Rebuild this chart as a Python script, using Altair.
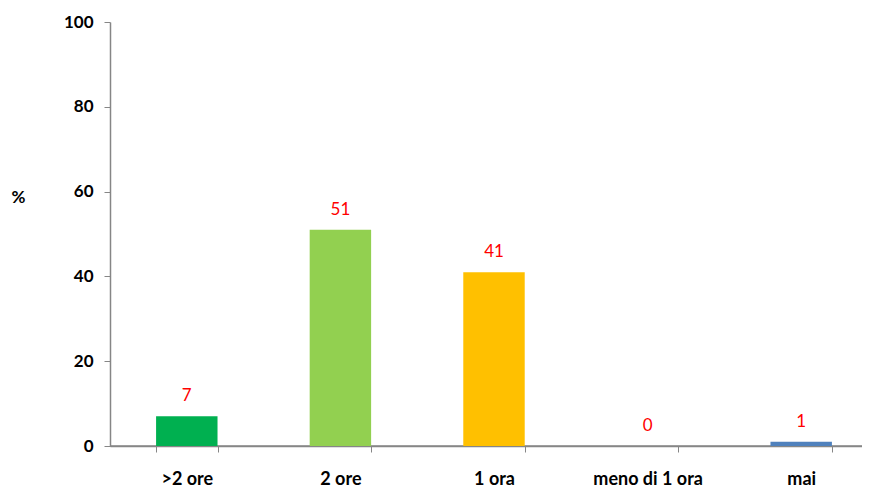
import altair as alt
import pandas as pd

categories = [">2 ore", "2 ore", "1 ora", "meno di 1 ora", "mai"]
values = [7, 51, 41, 0, 1]
colors = ["#00B050", "#92D050", "#FFC000", "#4F81BD", "#4F81BD"]

df = pd.DataFrame({"cat": categories, "val": values, "col": colors})

FONT = "Lato"

x = alt.X(
    "cat:N",
    sort=categories,
    scale=alt.Scale(range=[0, 768], paddingInner=0.6, paddingOuter=0.3),
    axis=alt.Axis(
        title=None, labelAngle=0, labelFont=FONT, labelFontSize=18,
        labelFontWeight="bold", labelColor="#000000", labelPadding=18,
        domainColor="#868686", domainWidth=1.5, tickColor="#868686", tickBand="extent",
        tickSize=6, grid=False,
    ),
)
y = alt.Y(
    "val:Q",
    scale=alt.Scale(domain=[0, 100]),
    axis=alt.Axis(
        values=[0, 20, 40, 60, 80, 100], title="%", titleAngle=0,
        titleFont=FONT, titleFontSize=17, titleFontWeight="bold",
        titleX=-92, titleY=175, titleBaseline="middle", titleAlign="center",
        labelFont=FONT, labelFontSize=17, labelFontWeight="bold",
        labelColor="#000000", labelPadding=11,
        domainColor="#868686", domainWidth=1.5, tickColor="#868686", tickSize=6, grid=False,
    ),
)

# extension of the category axis line to the right edge (decoration)
axis_line = alt.Chart(pd.DataFrame({"a": [0]})).mark_rule(
    color="#868686", strokeWidth=1.5
).encode(x=alt.value(0), x2=alt.value(770), y=alt.value(424))

bars = alt.Chart(df).mark_bar().encode(
    x=x, y=y, color=alt.Color("col:N", scale=None)
)
labels = alt.Chart(df).mark_text(
    dy=-20, baseline="middle", color="#FF0000", font=FONT, fontSize=17
).encode(x=x, y=y, text="val:Q")

chart = (axis_line + bars + labels).properties(
    width=752, height=424,
    autosize=alt.AutoSizeParams(type="none"),
    padding={"left": 102, "top": 14, "right": 0, "bottom": 41},
).configure_view(stroke=None)

chart.save("out.html", embed_options={"renderer": "svg", "actions": False})
